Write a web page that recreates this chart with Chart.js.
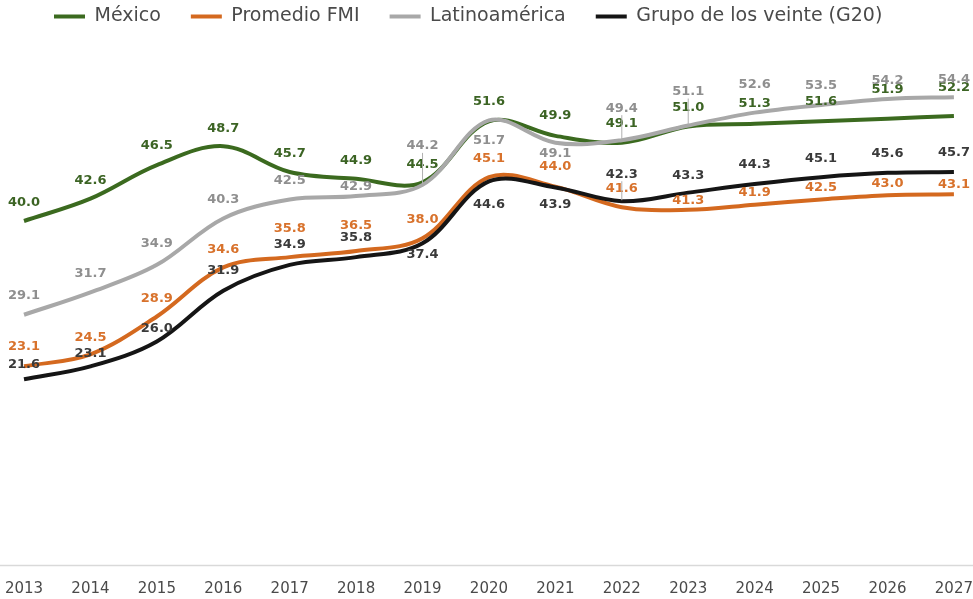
<!DOCTYPE html>
<html>
<head>
<meta charset="utf-8">
<script src="https://cdn.jsdelivr.net/npm/chart.js@4.4.1/dist/chart.umd.min.js"></script>
<style>
  html, body { margin: 0; padding: 0; background: #fff; }
  #wrap { width: 973px; height: 599px; position: relative; }
</style>
</head>
<body>
<div id="wrap"><canvas id="deudaChart"></canvas></div>
<script>
// años
const years = ['2013','2014','2015','2016','2017','2018','2019','2020','2021','2022','2023','2024','2025','2026','2027'];

// series
const mexico       = [40.0, 42.6, 46.5, 48.7, 45.7, 44.9, 44.5, 51.6, 49.9, 49.1, 51.0, 51.3, 51.6, 51.9, 52.2];
const promedioFMI  = [23.1, 24.5, 28.9, 34.6, 35.8, 36.5, 38.0, 45.1, 44.0, 41.6, 41.3, 41.9, 42.5, 43.0, 43.1];
const latinoamerica= [29.1, 31.7, 34.9, 40.3, 42.5, 42.9, 44.2, 51.7, 49.1, 49.4, 51.1, 52.6, 53.5, 54.2, 54.4];
const g20          = [21.6, 23.1, 26.0, 31.9, 34.9, 35.8, 37.4, 44.6, 43.9, 42.3, 43.3, 44.3, 45.1, 45.6, 45.7];

const seriesNames = ['México', 'Promedio FMI', 'Latinoamérica', 'Grupo de los veinte (G20)'];

const lineColors  = ['#3b6a1f', '#d4691f', '#a8a8a8', '#151515'];
const labelColors = ['#3c6424', '#d8722c', '#8f8f8f', '#3a3a3a'];

// desplazamiento vertical de cada etiqueta (px) respecto al punto
const labelShift = [
  [-18,-18,-19,-18,-18,-18,-18,-20,-20,-19,-19,-20,-20,-29,-28],
  [-20,-17,-18,-18,-28,-25,-19,-19,-20,-19, -9,-12,-12,-12,-10],
  [-19,-19,-21,-19,-19, -9,-39, 20, 11,-32,-34,-28,-19,-18,-18],
  [-15,-13,-13,-20,-20,-19, 11, 23, 17,-27,-17,-19,-19,-19,-19]
];
// etiquetas con línea guía
const leaders = [[], [], [6, 9, 10], [9]];

const dataLabels = {
  id: 'dataLabels',
  afterDatasetsDraw(chart) {
    const ctx = chart.ctx;
    ctx.save();
    ctx.font = 'bold 13px "DejaVu Sans"';
    ctx.textAlign = 'center';
    ctx.textBaseline = 'middle';
    chart.data.datasets.forEach((ds, di) => {
      const meta = chart.getDatasetMeta(di);
      meta.data.forEach((pt, i) => {
        const dy = labelShift[di][i];
        const ty = pt.y + dy;
        if (leaders[di].includes(i)) {
          ctx.strokeStyle = '#b0b0b0';
          ctx.lineWidth = 1;
          ctx.beginPath();
          ctx.moveTo(pt.x, ty + 7);
          ctx.lineTo(pt.x, pt.y - 1);
          ctx.stroke();
        }
        ctx.fillStyle = labelColors[di];
        ctx.fillText(ds.data[i].toFixed(1), pt.x, ty);
      });
    });
    ctx.restore();
  }
};

const axisLine = {
  id: 'axisLine',
  beforeDatasetsDraw(chart) {
    const ctx = chart.ctx;
    const y = chart.chartArea.bottom + 0.5;
    ctx.save();
    ctx.strokeStyle = '#d9d9d9';
    ctx.lineWidth = 1.5;
    ctx.beginPath();
    ctx.moveTo(0, y);
    ctx.lineTo(chart.width, y);
    ctx.stroke();
    ctx.restore();
  }
};

const legendGap = {
  id: 'legendGap',
  beforeInit(chart) {
    const origFit = chart.legend.fit;
    chart.legend.fit = function fit() {
      origFit.bind(chart.legend)();
      this.height += 13;
    };
  }
};

const allSeries = [mexico, promedioFMI, latinoamerica, g20];
const drawOrder = [4, 3, 2, 1];

const ctx = document.getElementById('deudaChart').getContext('2d');
new Chart(ctx, {
  type: 'line',
  data: {
    labels: years,
    datasets: allSeries.map((vals, i) => ({
      label: seriesNames[i],
      data: vals,
      borderColor: lineColors[i],
      backgroundColor: lineColors[i],
      borderWidth: 4,
      tension: 0.35,
      pointRadius: 0,
      fill: false,
      order: drawOrder[i]
    }))
  },
  options: {
    responsive: true,
    maintainAspectRatio: false,
    animation: false,
    devicePixelRatio: 1,
    layout: { padding: { left: 24, right: 17, top: -23, bottom: 1 } },
    scales: {
      x: {
        offset: false,
        grid: { display: false, drawTicks: true, tickLength: 15 },
        border: { display: false },
        ticks: {
          color: '#4a4a4a',
          font: { family: 'DejaVu Sans', size: 15 },
          padding: 0,
          maxRotation: 0,
          autoSkip: false
        }
      },
      y: { display: false, min: 0, max: 60 }
    },
    plugins: {
      tooltip: { enabled: false },
      legend: {
        display: true,
        position: 'top',
        align: 'start',
        labels: {
          boxWidth: 31,
          boxHeight: 4,
          padding: 30,
          color: '#4a4a4a',
          font: { family: 'DejaVu Sans', size: 19 },
          sort: (a, b) => a.datasetIndex - b.datasetIndex,
          generateLabels: (chart) =>
            Chart.defaults.plugins.legend.labels.generateLabels(chart).map(item => ({
              ...item, lineWidth: 0, fillStyle: lineColors[item.datasetIndex]
            }))
        }
      }
    }
  },
  plugins: [dataLabels, axisLine, legendGap]
});
</script>
</body>
</html>
